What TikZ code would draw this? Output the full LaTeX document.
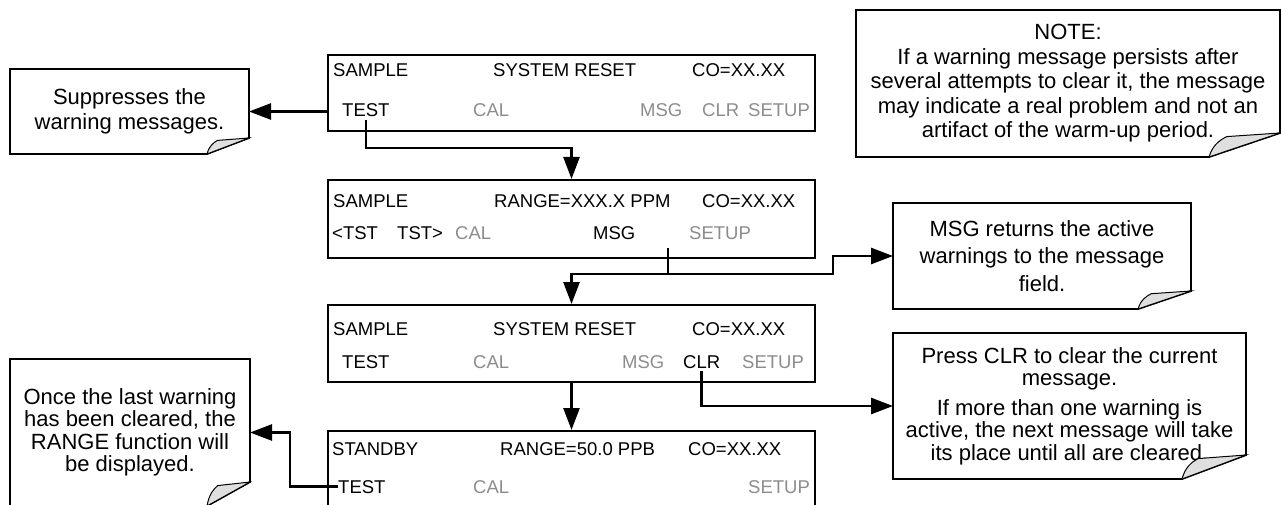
\documentclass[tikz,border=0pt]{standalone}
\usepackage{fontspec}
\setmainfont{Liberation Sans}
\usetikzlibrary{arrows.meta}
\definecolor{keyoff}{RGB}{140,140,140}
\newcommand\curlnote[3]{%
\coordinate(#1-s)at([xshift=-#2pt]#1.south east);
\coordinate(#1-e)at([yshift=#3pt]#1.south east);
\draw[line width=1.8pt](#1.north west)--(#1.north east)--(#1-e)--(#1-s)--(#1.south west)--cycle;
\filldraw[fill=gray!25,line width=1pt](#1-s)..controls +(0.05*#2pt,0.5*#3pt) and +(-0.1*#2pt,-0.15*#3pt)..++(0.25*#2pt,0.85*#3pt)--(#1-e)--cycle;}
\begin{document}
\begin{tikzpicture}[x=1pt,y=-1pt,
  screen/.style={draw,line width=2pt,minimum width=487pt,anchor=north west,inner sep=0pt},
  key/.style={anchor=base west,inner xsep=0pt,inner ysep=3pt,font=\fontsize{18.5}{20}\selectfont},
  off/.style={key,text=keyoff},
  note/.style={inner sep=0pt,outer sep=0pt,align=center,font=\fontsize{22}{25}\selectfont},
  flow/.style={line width=2.6pt,-{Triangle[length=22pt,width=16pt]}}]
\useasboundingbox(0,0)rectangle(1281,505);
\node[screen,minimum height=76pt](scrA)at(327,54){};
\node[screen,minimum height=78pt](scrB)at(327,179){};
\node[screen,minimum height=77pt](scrC)at(327,304){};
\node[screen,minimum height=80pt](scrD)at(327,430){};
\node[key](sampleA)at(333,77){SAMPLE};
\node[key](sysA)at(493,77){SYSTEM RESET};
\node[key](coA)at(692,77){CO=XX.XX};
\node[key](testA)at(342,117){TEST};
\node[off](calA)at(473,117){CAL};
\node[off](msgA)at(640,117){MSG};
\node[off](clrA)at(702,117){CLR};
\node[off](setupA)at(748,117){SETUP};
\node[key](sampleB)at(333,207){SAMPLE};
\node[key](rangeB)at(494,207){RANGE=XXX.X PPM};
\node[key](coB)at(702,207){CO=XX.XX};
\node[key](tstlB)at(332,239){<TST};
\node[key](tstrB)at(397,239){TST>};
\node[off](calB)at(455,239){CAL};
\node[key](msgB)at(593,239){MSG};
\node[off](setupB)at(689,239){SETUP};
\node[key](sampleC)at(333,335){SAMPLE};
\node[key](sysC)at(493,335){SYSTEM RESET};
\node[key](coC)at(692,335){CO=XX.XX};
\node[key](testC)at(342,368){TEST};
\node[off](calC)at(473,368){CAL};
\node[off](msgC)at(622,368){MSG};
\node[key](clrC)at(683,368){CLR};
\node[off](setupC)at(742,368){SETUP};
\node[key](standbyD)at(332,455){STANDBY};
\node[key](rangeD)at(500,455){RANGE=50.0 PPB};
\node[key](coD)at(688,455){CO=XX.XX};
\node[key](testD)at(338,493){TEST};
\node[off](calD)at(473,493){CAL};
\node[off](setupD)at(748,493){SETUP};
\node[note,minimum width=239pt,minimum height=85pt](noteSup)at(129.5,111.5){Suppresses the\\warning messages.};
\node[note,minimum width=424pt,minimum height=147pt,font=\fontsize{22}{24.5}\selectfont](noteWarn)at(1068,83.5){NOTE:\\If a warning message persists after\\several attempts to clear it, the message\\may indicate a real problem and not an\\artifact of the warm-up period.};
\node[note,minimum width=298pt,minimum height=106pt,font=\fontsize{22}{27.5}\selectfont](noteMsg)at(1042,256){MSG returns the active\\warnings to the message\\field.};
\node[note,minimum width=353pt,minimum height=146pt,font=\fontsize{22}{22.5}\selectfont](noteClr)at(1069.5,406){Press CLR to clear the current\\message.\\[7pt]If more than one warning is\\active, the next message will take\\its place until all are cleared.};
\node[note,minimum width=240pt,minimum height=147pt,font=\fontsize{22}{22.5}\selectfont](noteOnce)at(130,432.5){Once the last warning\\has been cleared, the\\RANGE function will\\be displayed.};
\curlnote{noteSup}{42}{16}
\curlnote{noteWarn}{71}{24}
\curlnote{noteMsg}{53}{18}
\curlnote{noteClr}{64}{24}
\curlnote{noteOnce}{43}{24}
\draw[flow](scrA.west|-noteSup.east)--(noteSup.east);
\path(scrB.north)++(0,-31)coordinate(bendA);
\draw[flow](testA.south)|-(bendA)--(scrB.north);
\coordinate(msgTap)at(668,248);
\path(msgTap)++(0,26)coordinate(bendB);
\draw[flow](bendB)-|(scrC.north);
\draw[flow](msgTap)--(bendB)--++(165,0)|-(noteMsg.west);
\draw[flow](scrC.south)--(scrD.north);
\draw[flow](clrC.south)|-(noteClr.west);
\draw[flow](testD.west)--++(-48,0)|-(noteOnce.east);
\end{tikzpicture}
\end{document}
